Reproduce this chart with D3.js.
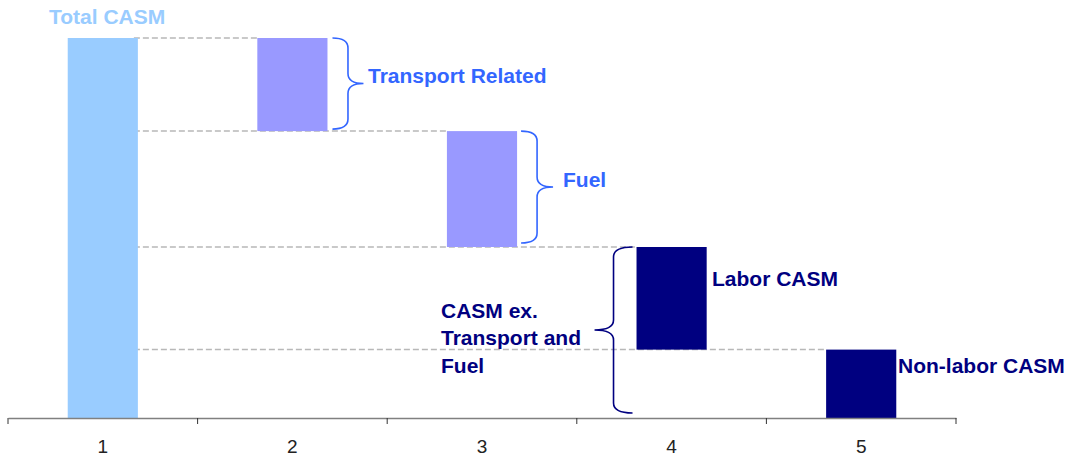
<!DOCTYPE html>
<html>
<head>
<meta charset="utf-8">
<script src="https://cdn.jsdelivr.net/npm/d3@7"></script>
<style>
  body { margin: 0; background: #fff; }
  text { font-family: Arial, "Liberation Sans", sans-serif; }
</style>
</head>
<body>
<div id="chart"></div>
<script>
// data
const categories = ["1", "2", "3", "4", "5"];
const names = ["Total CASM", "Transport Related", "Fuel", "Labor CASM", "Non-labor CASM"];
const values = [100, 24.5, 30.5, 27, 18];   // first one is the total, the rest step down
const colors = ["#99CCFF", "#9999FF", "#9999FF", "#000080", "#000080"];

const width = 1068;
const height = 459;

const svg = d3.select("#chart")
              .append("svg")
              .attr("width", width)
              .attr("height", height);

const x = d3.scaleBand()
            .domain(categories)
            .range([8, 956]);

const y = d3.scaleLinear()
            .domain([0, 100])
            .range([418, 38]);

// work out floating bar ends
const bars = [];
let level = values[0];
values.forEach(function(v, i) {
    if (i === 0) {
        bars.push({ cat: categories[i], top: v, bottom: 0, color: colors[i] });
    } else {
        bars.push({ cat: categories[i], top: level, bottom: level - v, color: colors[i] });
        level -= v;
    }
});

const barW = x.bandwidth() * 0.37;
const barX = d => x(d.cat) + x.bandwidth() / 2 - barW / 2;

// dashed connector lines (behind bars)
svg.selectAll(".conn")
   .data(bars.slice(1))
   .enter().append("line")
   .attr("class", "conn")
   .attr("x1", barX(bars[0]) + barW - 4)
   .attr("x2", d => barX(d))
   .attr("y1", d => y(d.top))
   .attr("y2", d => y(d.top))
   .attr("stroke", "#B8B8B8")
   .attr("stroke-width", 1.5)
   .attr("stroke-dasharray", "6,3");

// bars
svg.selectAll(".bar")
   .data(bars)
   .enter().append("rect")
   .attr("class", "bar")
   .attr("x", barX)
   .attr("width", barW)
   .attr("y", d => y(d.top))
   .attr("height", d => y(d.bottom) - y(d.top))
   .attr("fill", d => d.color);

// axis
const axis = svg.append("g")
                .attr("transform", "translate(0,418)")
                .call(d3.axisBottom(x).tickSize(0).tickPadding(22));
axis.select(".domain").attr("stroke", "#808080").attr("stroke-width", 1.5);
axis.selectAll("text")
    .attr("font-size", 19)
    .attr("fill", "#222")
    .attr("font-family", "Arial, 'Liberation Sans', sans-serif");

// tick marks at band boundaries
const bounds = categories.map(c => x(c)).concat([x.range()[1]]);
svg.selectAll(".tk")
   .data(bounds)
   .enter().append("line")
   .attr("x1", d => d).attr("x2", d => d)
   .attr("y1", 418).attr("y2", 424)
   .attr("stroke", "#333")
   .attr("stroke-width", 1);

// curly brace path, vertical, from y0 to y1 at x, pointing dir (+1 right, -1 left)
function brace(xs, y0, y1, dir, w) {
    const ym = (y0 + y1) / 2;
    const a = w * 0.5;
    const r = 10;
    return `M${xs},${y0}` +
           `Q${xs + dir * a},${y0} ${xs + dir * a},${y0 + r}` +
           `L${xs + dir * a},${ym - r}` +
           `Q${xs + dir * a},${ym} ${xs + dir * w},${ym}` +
           `Q${xs + dir * a},${ym} ${xs + dir * a},${ym + r}` +
           `L${xs + dir * a},${y1 - r}` +
           `Q${xs + dir * a},${y1} ${xs},${y1}`;
}

const b2 = bars[1], b3 = bars[2], b4 = bars[3], b5 = bars[4];

svg.append("path")
   .attr("d", brace(barX(b2) + barW + 5, y(b2.top), y(b2.bottom) - 2, 1, 31))
   .attr("fill", "none").attr("stroke", "#3366FF").attr("stroke-width", 1.6);

svg.append("path")
   .attr("d", brace(barX(b3) + barW + 4, y(b3.top), y(b3.bottom) - 4, 1, 32))
   .attr("fill", "none").attr("stroke", "#3366FF").attr("stroke-width", 1.6);

svg.append("path")
   .attr("d", brace(barX(b4) - 4, y(b4.top), y(b5.bottom) - 5, -1, 38))
   .attr("fill", "none").attr("stroke", "#000080").attr("stroke-width", 1.6);

// labels
const labels = [
    { text: names[0], x: 49, y: 24, color: "#99CCFF" },
    { text: names[1], x: 368, y: 83, color: "#3366FF" },
    { text: names[2], x: 563, y: 187, color: "#3366FF" },
    { text: names[3], x: 712, y: 286, color: "#000080" },
    { text: names[4], x: 898, y: 373, color: "#000080" },
    { text: "CASM ex.", x: 441, y: 318, color: "#000080" },
    { text: "Transport and", x: 441, y: 345, color: "#000080" },
    { text: "Fuel", x: 441, y: 373, color: "#000080" }
];

svg.selectAll(".lbl")
   .data(labels)
   .enter().append("text")
   .attr("class", "lbl")
   .attr("x", d => d.x)
   .attr("y", d => d.y)
   .attr("fill", d => d.color)
   .attr("font-size", 21)
   .attr("font-weight", "bold")
   .text(d => d.text);
</script>
</body>
</html>
